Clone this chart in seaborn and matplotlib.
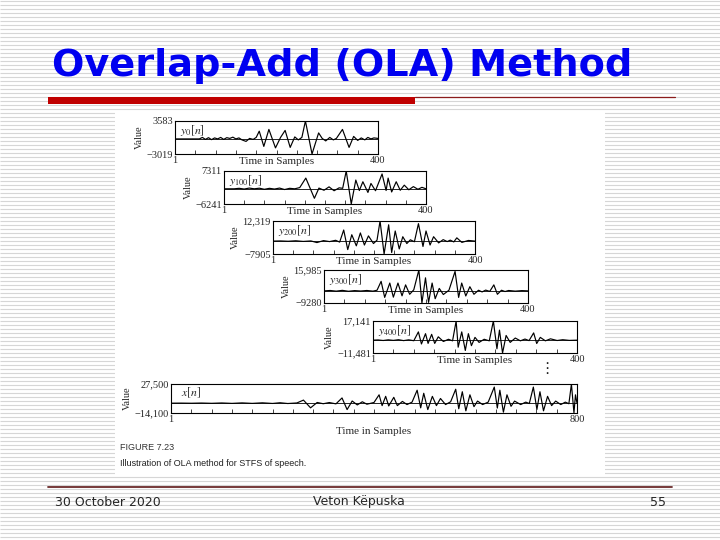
import numpy as np
import matplotlib
matplotlib.use('Agg')
import matplotlib.pyplot as plt
from matplotlib.patches import Rectangle
import seaborn as sns

# waveform samples (sample index, value)
Y0_N = [0, 48, 54, 60, 66, 72, 78, 84, 90, 96, 102, 108, 114, 120, 126, 132, 140, 147, 154, 160,
        166, 175, 185, 198, 208, 217, 227, 236, 243, 250, 257, 270, 283, 290, 297, 305, 312, 318, 330, 343,
        352, 360, 367, 374, 380, 386, 392, 400]
Y0_V = [0, 0, 300, -100, 250, -150, 200, 0, 300, -100, 250, 100, 350, 0, 200, -200, -500, 100, -100, 300,
        1550, -1500, 1900, -1800, 300, 1700, -1700, 400, -200, 300, 3583, -3019, 1200, 100, -400, 300, -200, 100, 1900, -1700,
        500, -300, 200, -200, 300, 0, 200, 100]

Y1_N = [0, 20, 30, 40, 50, 60, 70, 80, 90, 100, 110, 120, 130, 140, 150, 162, 179, 188, 198, 208,
        218, 228, 235, 242, 252, 261, 268, 275, 285, 291, 300, 313, 321, 325, 332, 341, 349, 357, 366, 375,
        384, 392, 400]
Y1_V = [0, 0, 200, -100, 300, 0, 250, -200, 200, -100, 300, -300, 200, 0, 500, 4400, -3900, 300, -600, 800,
        -800, 400, 200, 7311, -6241, 3600, -700, 2900, -1500, 2200, -800, 6100, -700, 4400, -1300, 2900, -600, 1500, -400, 900,
        -200, 600, 0]

Y2_N = [0, 15, 30, 45, 60, 75, 87, 100, 112, 124, 132, 140, 148, 156, 165, 173, 181, 189, 199, 206,
        212, 220, 229, 235, 242, 250, 257, 265, 272, 280, 288, 297, 303, 311, 318, 328, 337, 345, 351, 358,
        364, 374, 387, 400]
Y2_V = [0, 100, -100, 200, -200, 100, -900, 300, -300, 500, -600, 6800, -5200, 3900, -2900, 5000, -2400, 3200, -1500, 600,
        12319, -7905, 10000, -7000, 6200, -4800, 2700, -1500, 800, -400, 10700, -3300, 6200, -2400, 2700, -1100, 900, -300, 600, -500,
        2000, -800, 400, 0]

Y3_N = [0, 12, 24, 36, 48, 60, 72, 84, 96, 104, 112, 119, 129, 136, 145, 153, 160, 168, 176, 186,
        192, 199, 205, 212, 218, 226, 234, 245, 257, 264, 270, 278, 286, 294, 303, 310, 317, 325, 333, 340,
        348, 355, 362, 375, 388, 400]
Y3_V = [0, 300, -200, 400, -300, 200, -100, 300, -200, 500, 7300, -5000, 6000, -4800, 6000, -3800, 4600, -2600, 800, 15985,
        -9280, 10000, -8800, 6000, -6000, 1900, -2800, 500, 14900, -5000, 6000, -3900, 3200, -2600, 500, -800, 600, -400, 4600, -2600,
        500, -500, 300, -200, 200, 0]

Y4_N = [0, 10, 20, 30, 40, 50, 60, 70, 80, 89, 95, 103, 108, 115, 121, 128, 138, 148, 156, 163,
        167, 174, 181, 187, 193, 200, 208, 218, 228, 236, 243, 248, 254, 261, 269, 279, 289, 298, 306, 315,
        321, 328, 338, 348, 361, 372, 385, 400]
Y4_V = [0, 200, -300, 300, -200, 400, -400, 300, -500, 7400, -3400, 5800, -2900, 5200, -2900, 3000, -1200, 800, -600, 17141,
        -6300, 7400, -9200, 5800, -4900, 2500, -2000, 800, -600, 17141, -7700, 9000, -11481, 4200, -2000, 1900, -600, 1000, -400, 6500,
        -3000, 2500, -600, 1200, -300, 400, -200, 0]

X_N = [0, 20, 40, 60, 80, 100, 120, 140, 160, 180, 200, 215, 230, 248, 261, 275, 288, 300, 312, 325,
       337, 347, 357, 367, 377, 386, 400, 410, 416, 423, 429, 439, 446, 456, 465, 475, 485, 492, 498, 506,
       515, 523, 531, 541, 551, 561, 567, 574, 581, 589, 597, 604, 614, 625, 637, 643, 648, 655, 662, 670,
       677, 689, 699, 706, 714, 721, 727, 734, 742, 750, 758, 768, 777, 784, 789, 794, 797, 800]
X_V = [0, 100, -100, 200, -200, 300, -300, 400, -300, 500, -400, 600, -500, 300, 4400, -6700, 1000, -800, 900, -1000,
       7500, -9200, 3100, -2500, 2000, -1500, 1000, 12000, -3500, 9800, -4000, 8400, -3500, 2500, -2000, 1500, 18600, -6700, 14200, -9200,
       9800, -3500, 6700, -2000, 2000, 20000, -8000, 16400, -11000, 12000, -5000, 3000, -2000, 1500, 23100, -7000, 18600, -12900, 12000, -4500,
       3000, -2000, 1500, -500, 23100, -9000, 16400, -11000, 9800, -3500, 3000, -2000, 1500, -800, 27500, -14100, 12000, 0]

NAMES = [r'$y_0[n]$', r'$y_{100}[n]$', r'$y_{200}[n]$', r'$y_{300}[n]$', r'$y_{400}[n]$', r'$x[n]$']
Y_MAX = [3583, 7311, 12319, 15985, 17141, 27500]
Y_MIN = [-3019, -6241, -7905, -9280, -11481, -14100]
TOP_LABELS = ['3583', '7311', '12,319', '15,985', '17,141', '27,500']
BOT_LABELS = ['\u22123019', '\u22126241', '\u22127905', '\u22129280', '\u221211,481', '\u221214,100']
X_END = [400, 400, 400, 400, 400, 800]

sns.set_style('white')
plt.rcParams['font.family'] = ['DejaVu Sans']
plt.rcParams['mathtext.fontset'] = 'stix'

fig = plt.figure(figsize=(7.2, 5.4), dpi=100)

# slide background in pixel coordinates
bg = fig.add_axes([0, 0, 1, 1])
bg.set_xlim(0, 720)
bg.set_ylim(540, 0)
bg.axis('off')
bg.hlines(np.arange(1, 540, 4), 0, 720, color='#d6d6d6', lw=0.8, zorder=0)

bg.text(52, 66, 'Overlap-Add (OLA) Method', fontsize=27.5, fontweight='bold',
        color='#0000F0', va='center', ha='left', zorder=5)
bg.add_patch(Rectangle((48, 96.5), 367, 7.5, color='#C00000', lw=0, zorder=4))
bg.plot([415, 675], [97, 97], color='#8b1c1c', lw=0.9, zorder=4)

bg.plot([48, 672], [487, 487], color='#6b2a2a', lw=1.3, zorder=4)
bg.text(55, 502, '30 October 2020', fontsize=9, va='center', zorder=5)
bg.text(313, 502, 'Veton Këpuska', fontsize=9, va='center', zorder=5)
bg.text(650, 502, '55', fontsize=9, va='center', zorder=5)

# scanned figure area
bg.add_patch(Rectangle((115, 112), 490, 363, color='white', lw=0, zorder=3))
bg.text(120, 448, 'FIGURE 7.23', fontsize=6.5, family='Liberation Sans', color='#333333',
        va='center', zorder=5)
bg.text(120, 463, 'Illustration of OLA method for STFS of speech.', fontsize=6.5,
        family='Liberation Sans', color='#222222', va='center', zorder=5)
bg.text(547, 369, '\u22ee', fontsize=11, color='#222222', ha='center', va='center', zorder=5)

boxes = [(175, 121, 203, 33), (224, 171, 202, 33), (273, 221, 202, 33),
         (324, 270, 204, 33), (373, 321, 204, 32), (171, 384, 406, 29)]
series = [(Y0_N, Y0_V), (Y1_N, Y1_V), (Y2_N, Y2_V), (Y3_N, Y3_V), (Y4_N, Y4_V), (X_N, X_V)]

serif = 'Liberation Serif'
for i, (l, t, w, h) in enumerate(boxes):
    ax = fig.add_axes([l / 720, 1 - (t + h) / 540, w / 720, h / 540])
    ax.set_facecolor('white')
    n, v = series[i]
    ax.axhline(0, color='black', lw=0.6)
    sns.lineplot(x=n, y=v, ax=ax, color='black', lw=0.85, estimator=None, sort=False)
    ax.set_xlim(0, X_END[i])
    ax.set_ylim(Y_MIN[i], Y_MAX[i])
    for s in ax.spines.values():
        s.set_color('black')
        s.set_linewidth(0.8)
    ax.set_yticks([Y_MIN[i], Y_MAX[i]])
    ax.set_yticklabels([BOT_LABELS[i], TOP_LABELS[i]], family=serif, fontsize=7.5)
    ax.set_xticks([0, X_END[i]])
    ax.set_xticklabels(['1', str(X_END[i])], family=serif, fontsize=7.5)
    ax.set_xticks(range(40, X_END[i], 40), minor=True)
    ax.tick_params(axis='both', which='major', length=0, pad=1.5)
    ax.tick_params(axis='x', which='minor', direction='in', length=3, width=0.6, bottom=True)
    ax.set_ylabel('Value', family=serif, fontsize=7.5, labelpad=2)
    ax.set_xlabel('Time in Samples', family=serif, fontsize=8,
                  labelpad=-6 if i < 5 else 2)
    ax.text(0.025, 0.93, NAMES[i], transform=ax.transAxes, fontsize=8.5, va='top', ha='left')

fig.savefig('out.png', dpi=100)
